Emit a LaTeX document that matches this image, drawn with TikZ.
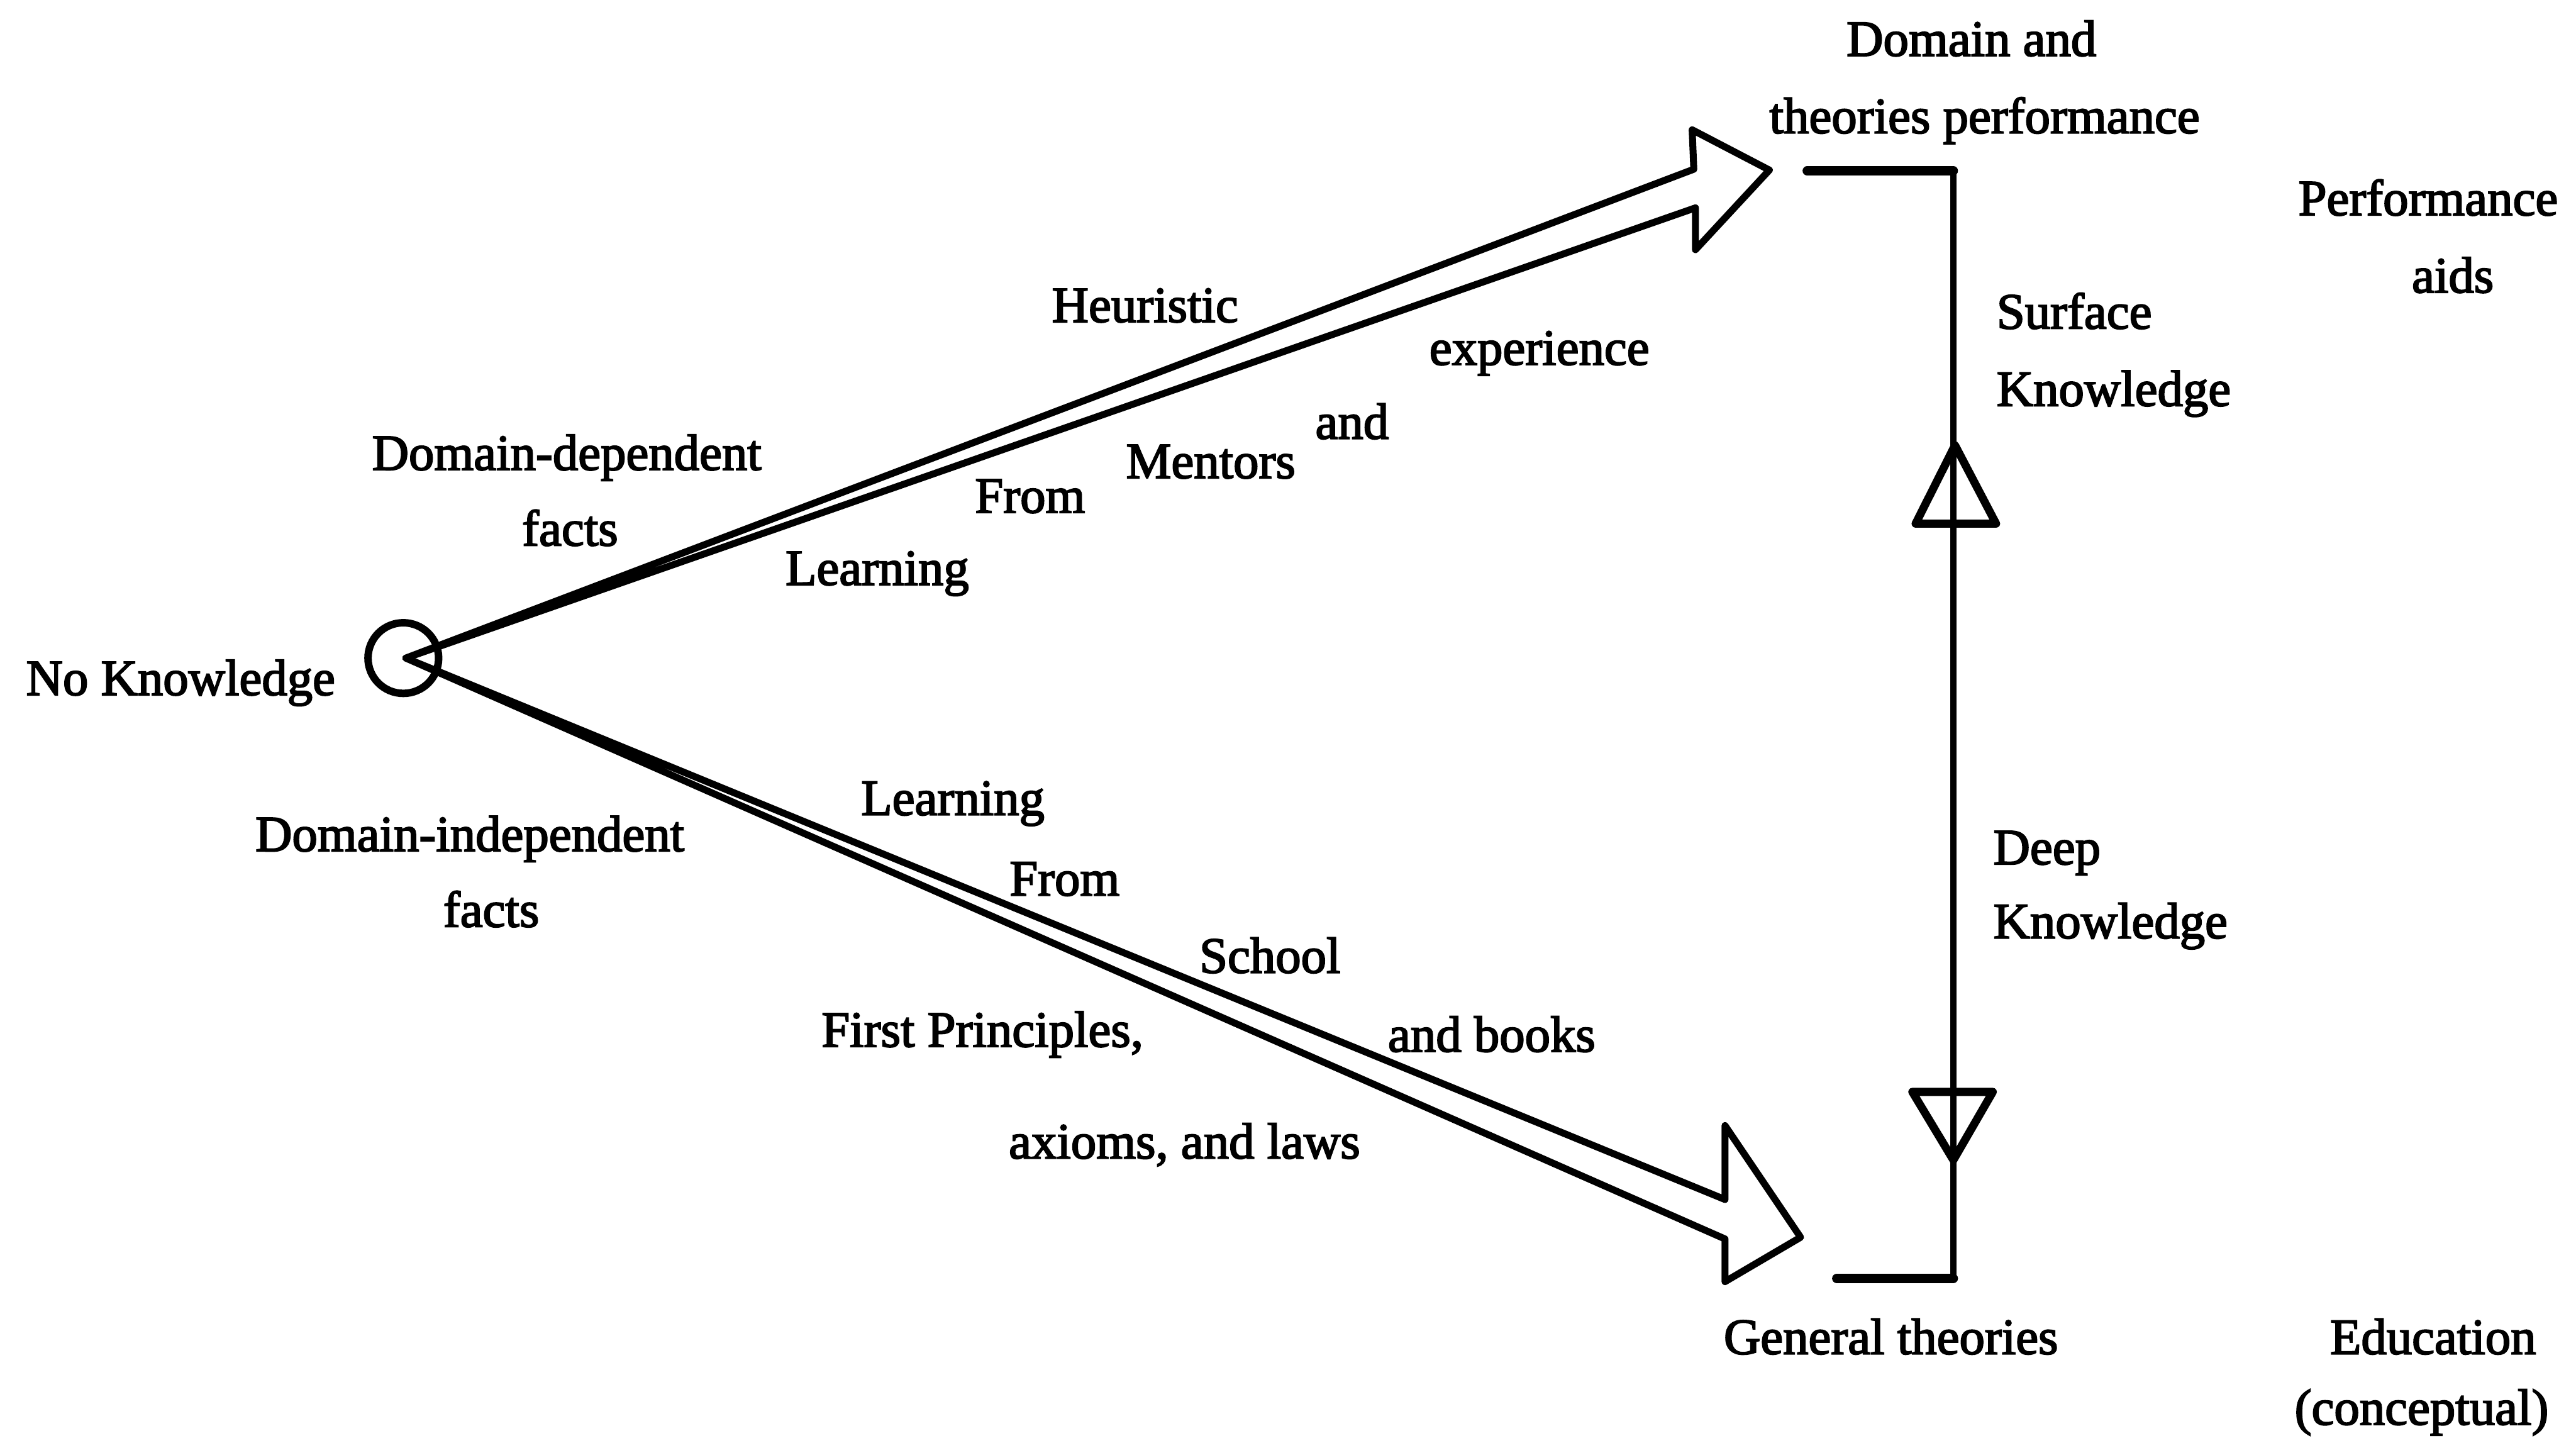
\documentclass[tikz,border=0pt]{standalone}
\usepackage{fontspec}
\setmainfont{Liberation Serif}
\newfontfamily\heavyserif{Liberation Serif}[FakeBold=2.6]
\begin{document}
\begin{tikzpicture}[x=0.02cm,y=-0.02cm,
  lbl/.style={anchor=base,inner sep=0pt,font=\heavyserif\fontsize{17.6}{20}\selectfont},
  hollow/.style={draw=black,line width=2.4pt,line join=round},
  rail/.style={draw=black,line width=2.2pt},
  railend/.style={draw=black,line width=3.2pt,line cap=round},
  tri/.style={draw=black,line width=2.8pt,line join=round}]
\useasboundingbox (0,0) rectangle (1568,881);

% starting point
\node[circle,draw,line width=2.6pt,minimum size=0.86cm,inner sep=0pt] (nok) at (245.5,400.5) {};
\coordinate (src) at (247,400.5);

% upper hollow arrow (experience)
\coordinate (ua) at (1031,103);
\coordinate (ub) at (1030,79);
\coordinate (utip) at (1077,103.5);
\coordinate (uc) at (1032,152);
\coordinate (ud) at (1032,126.5);
\draw[hollow] (src) -- (ua) -- (ub) -- (utip) -- (uc) -- (ud) -- cycle;

% lower hollow arrow (education)
\coordinate (la) at (1050,730);
\coordinate (lb) at (1050,685);
\coordinate (ltip) at (1096,753);
\coordinate (lc) at (1050,780);
\coordinate (ld) at (1050,754);
\draw[hollow] (src) -- (la) -- (lb) -- (ltip) -- (lc) -- (ld) -- cycle;

% bracket joining the two ends
\coordinate (btop) at (1100,104);
\coordinate (rtop) at (1189,104);
\coordinate (rbot) at (1189,778);
\coordinate (bbot) at (1118,778);
\draw[rail] (rtop) -- (rbot);
\draw[railend] (btop) -- (rtop);
\draw[railend] (bbot) -- (rbot);

% direction marks on the bracket
\draw[tri] (1190,271) -- (1215,318.7) -- (1166,318.7) -- cycle;
\draw[tri] (1164,664.5) -- (1213,664.5) -- (1189,706) -- cycle;

% labels
\node[lbl] (t1) at (1200,34) {Domain and};
\node[lbl] (t2) at (1208,81) {theories performance};
\node[lbl] (t3) at (1478,131) {Performance};
\node[lbl] (t4) at (1493,178) {aids};
\node[lbl] (t5) at (697,196) {Heuristic};
\node[lbl] (t6) at (937,222) {experience};
\node[lbl,anchor=base west] (t7) at (1215,200) {Surface};
\node[lbl,anchor=base west] (t8) at (1215,247) {Knowledge};
\node[lbl] (t9) at (345,286) {Domain-dependent};
\node[lbl] (t10) at (347,332) {facts};
\node[lbl] (t11) at (823,267) {and};
\node[lbl] (t12) at (737,291) {Mentors};
\node[lbl] (t13) at (627,312) {From};
\node[lbl] (t14) at (534,356) {Learning};
\node[lbl] (t15) at (110,423) {No Knowledge};
\node[lbl] (t16) at (580,496) {Learning};
\node[lbl] (t17) at (286,518) {Domain-independent};
\node[lbl] (t18) at (299,564) {facts};
\node[lbl] (t19) at (648,545) {From};
\node[lbl,anchor=base west] (t20) at (1213,526) {Deep};
\node[lbl,anchor=base west] (t21) at (1213,571) {Knowledge};
\node[lbl] (t22) at (773,592) {School};
\node[lbl] (t23) at (598,637) {First Principles,};
\node[lbl] (t24) at (908,640) {and books};
\node[lbl] (t25) at (721,705) {axioms, and laws};
\node[lbl] (t26) at (1151,824) {General theories};
\node[lbl] (t27) at (1481,824) {Education};
\node[lbl] (t28) at (1474,867) {(conceptual)};
\end{tikzpicture}
\end{document}
